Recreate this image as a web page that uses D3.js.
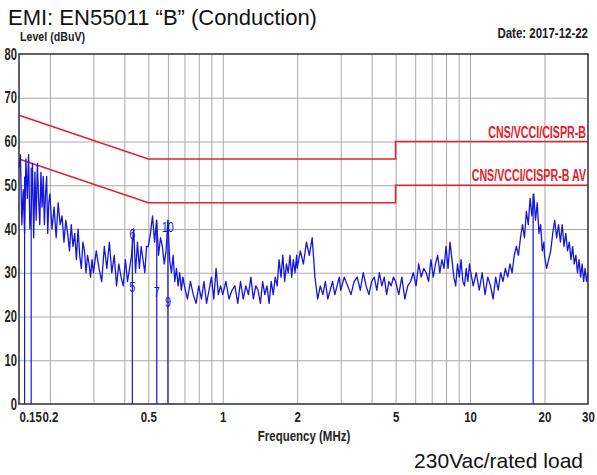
<!DOCTYPE html>
<meta charset="utf-8">
<style type="text/css">
body { margin: 0; background: #fff; }
svg text { font-family: 'Liberation Sans', Arial, sans-serif; font-weight: bold; fill: #222; }
.title, .note { font-weight: normal !important; fill: #111 !important; }
.grid line { stroke: #a8a8a8; stroke-width: 1; }
.grid path { display: none; }
.lim-label { fill: #e8202a !important; }
.mk-label { font-weight: normal !important; fill: #1515e0 !important; }
</style>
<body>
<script src="https://cdnjs.cloudflare.com/ajax/libs/d3/7.8.5/d3.min.js"></script>
<script>

// tick values
var xTicks = [0.15, 0.2, 0.5, 1, 2, 5, 10, 20, 30];
var xGrid = [0.2, 0.3, 0.4, 0.5, 0.6, 0.7, 0.8, 0.9, 1, 2, 3, 4, 5, 6, 7, 8, 9, 10, 20];
var yTicks = [0, 10, 20, 30, 40, 50, 60, 70, 80];

// limit lines (MHz, dBuV)
var limFreq = [0.15, 0.5, 5, 5, 30];
var qpLimit = [66, 56, 56, 60, 60];
var avLimit = [56, 46, 46, 50, 50];
var limNames = ["CNS/VCCI/CISPR-B", "CNS/VCCI/CISPR-B AV"];

// measured trace [MHz, dBuV]
var trace = [
  [0.150,54],[0.152,57],[0.154,41],[0.156,49],[0.158,39],[0.160,56],[0.162,47],[0.164,57],[0.166,40],[0.168,44],
  [0.170,55],[0.172,38],[0.174,53],[0.176,42],[0.178,55],[0.180,47],[0.182,41],[0.184,53],[0.186,45],[0.188,52],
  [0.190,41],[0.192,48],[0.194,52],[0.196,39],[0.198,46],
  [0.200,48],[0.204,40],[0.208,45],[0.212,38],[0.216,46],[0.220,41],[0.224,43],[0.228,37],[0.232,42],[0.236,39],
  [0.240,35],[0.244,41],[0.248,36],[0.252,39],[0.256,33],[0.260,40],[0.264,34],[0.268,31],[0.272,37],[0.276,35],
  [0.280,30],[0.284,34],[0.288,32],[0.292,29],[0.296,33],
  [0.300,30],[0.308,35],[0.316,31],[0.324,28],[0.332,36],[0.340,31],[0.348,37],[0.356,30],[0.364,34],[0.372,27],
  [0.380,32],[0.388,29],[0.396,27],[0.404,33],[0.412,28],[0.420,31],[0.428,34],[0.436,40],[0.444,30],[0.452,37],
  [0.460,31],[0.468,36],[0.476,33],[0.484,30],[0.492,36],
  [0.50,36],[0.51,39],[0.52,43],[0.53,37],[0.54,42],[0.55,34],[0.56,38],[0.57,36],[0.58,32],[0.59,35],
  [0.60,42],[0.61,33],[0.62,30],[0.63,34],[0.64,28],[0.65,31],[0.66,27],[0.67,30],[0.68,26],[0.69,29],
  [0.70,27],[0.72,24],[0.74,28],[0.76,25],[0.78,23],[0.80,27],[0.82,24],[0.84,28],[0.86,23],[0.88,26],
  [0.90,29],[0.92,24],[0.94,31],[0.96,25],[0.98,27],
  [1.00,25],[1.03,28],[1.06,24],[1.09,26],[1.12,27],[1.15,23],[1.18,28],[1.21,24],[1.24,27],[1.27,25],
  [1.30,29],[1.33,24],[1.36,27],[1.39,26],[1.42,23],[1.45,28],[1.48,25],[1.51,27],[1.54,23],[1.57,28],
  [1.60,25],[1.63,29],[1.66,27],[1.69,33],[1.72,29],[1.75,34],[1.78,28],[1.81,32],[1.84,30],[1.87,34],
  [1.90,29],[1.93,33],[1.96,30],[1.99,34],
  [2.00,31],[2.06,35],[2.12,32],[2.18,37],[2.24,34],[2.30,38],[2.36,29],[2.42,24],[2.48,27],[2.54,25],
  [2.60,28],[2.66,24],[2.72,26],[2.78,28],[2.84,25],[2.90,27],[2.96,29],
  [3.0,26],[3.1,29],[3.2,27],[3.3,25],[3.4,28],[3.5,29],[3.6,26],[3.7,30],[3.8,27],[3.9,25],
  [4.0,28],[4.1,29],[4.2,26],[4.3,30],[4.4,27],[4.5,29],[4.6,25],[4.7,28],[4.8,27],[4.9,29],
  [5.00,28],[5.15,25],[5.30,29],[5.45,24],[5.60,27],[5.75,28],[5.90,30],[6.05,27],[6.20,32],[6.35,29],
  [6.50,31],[6.65,30],[6.80,28],[6.95,33],[7.10,29],[7.25,32],[7.40,34],[7.55,30],[7.70,33],[7.85,31],
  [8.00,36],[8.15,31],[8.30,37],[8.45,33],[8.60,29],[8.75,27],[8.90,32],[9.05,29],[9.20,33],[9.35,28],
  [9.50,27],[9.65,31],[9.80,28],[9.95,32],
  [10.0,31],[10.3,27],[10.6,30],[10.9,26],[11.2,30],[11.5,25],[11.8,29],[12.1,27],[12.4,24],[12.7,29],
  [13.0,26],[13.3,30],[13.6,28],[13.9,31],[14.2,29],[14.5,32],[14.8,30],[15.1,34],[15.4,36],[15.7,34],
  [16.0,38],[16.3,41],[16.6,38],[16.9,44],[17.2,41],[17.5,47],[17.8,43],[18.1,48],[18.4,42],[18.7,46],
  [19.0,39],[19.3,41],[19.6,35],[19.9,37],
  [20.0,34],[20.4,31],[20.8,33],[21.2,35],[21.6,39],[22.0,42],[22.4,38],[22.8,41],[23.2,37],[23.6,41],
  [24.0,36],[24.4,39],[24.8,35],[25.2,37],[25.6,33],[26.0,36],[26.4,32],[26.8,34],[27.2,30],[27.6,33],
  [28.0,29],[28.4,32],[28.8,28],[29.2,31],[29.6,28],[30.0,30]
];

// marker lines and visible marker numbers
var markerFreq = [0.158, 0.168, 0.431, 0.541, 0.600, 18.0];
var markerLevel = [52, 54, 38, 42, 42, 48];
var labelText = ["5", "6", "7", "9", "10"];
var labelFreq = [0.431, 0.431, 0.541, 0.600, 0.600];
var labelLevel = [25.5, 37.8, 24.5, 22.2, 39.3];

var W = 597, H = 475;
var x = d3.scaleLog().domain([0.15, 30]).range([19, 588]);
var y = d3.scaleLinear().domain([0, 80]).range([404, 54]);

var svg = d3.select("body").append("svg")
  .attr("width", W)
  .attr("height", H);

// squeeze text horizontally (and stretch a bit vertically) for the narrow bold look
function narrow(sel, kx, ky) {
  sel.each(function() {
    var t = d3.select(this);
    var tx = +t.attr("x") || 0, ty = +t.attr("y") || 0;
    t.attr("x", 0).attr("y", 0)
      .attr("transform", "translate(" + tx + "," + ty + ") scale(" + (kx || 0.82) + "," + (ky || 1) + ")");
  });
}

//Grid
svg.append("g").attr("class", "grid")
  .attr("transform", "translate(0,404)")
  .call(d3.axisBottom(x).tickValues(xGrid).tickSize(-350).tickFormat(""));
svg.append("g").attr("class", "grid")
  .attr("transform", "translate(19,0)")
  .call(d3.axisLeft(y).tickValues(yTicks.slice(1, 8)).tickSize(-569).tickFormat(""));

//Limit lines
var lineGen = d3.line().x(function(d) { return x(d[0]); }).y(function(d) { return y(d[1]); });
[qpLimit, avLimit].forEach(function(lim) {
  svg.append("path")
    .datum(limFreq.map(function(f, i) { return [f, lim[i]]; }))
    .attr("d", lineGen)
    .attr("fill", "none")
    .attr("stroke", "#e8202a")
    .attr("stroke-width", 1.6);
});
svg.selectAll("text.lim-label")
  .data(limNames)
  .enter().append("text")
  .attr("class", "lim-label")
  .attr("x", 586)
  .attr("y", function(d, i) { return y(i == 0 ? qpLimit[4] : avLimit[4]) - 4; })
  .attr("text-anchor", "end")
  .style("font-size", "13px")
  .text(function(d) { return d; })
  .call(narrow, 0.82, 1.2);

//Markers
svg.selectAll("line.marker")
  .data(markerFreq)
  .enter().append("line")
  .attr("class", "marker")
  .attr("x1", function(d) { return x(d); })
  .attr("x2", function(d) { return x(d); })
  .attr("y1", y(0))
  .attr("y2", function(d, i) { return y(markerLevel[i]); })
  .attr("stroke", "#1515e0")
  .attr("stroke-width", 1.2);

//Trace
svg.append("path")
  .datum(trace)
  .attr("d", lineGen)
  .attr("fill", "none")
  .attr("stroke", "#1515e0")
  .attr("stroke-width", 1.3)
  .attr("stroke-linejoin", "round");

svg.selectAll("text.mk-label")
  .data(labelText)
  .enter().append("text")
  .attr("class", "mk-label")
  .attr("x", function(d, i) { return x(labelFreq[i]); })
  .attr("y", function(d, i) { return y(labelLevel[i]); })
  .attr("text-anchor", "middle")
  .style("font-size", "12px")
  .text(function(d) { return d; })
  .call(narrow, 0.9, 1.2);

//Frame
svg.append("rect")
  .attr("x", 19).attr("y", 54)
  .attr("width", 569).attr("height", 350)
  .attr("fill", "none")
  .attr("stroke", "#3a3a3a")
  .attr("stroke-width", 1.6);

//Axes labels
var xAxis = d3.axisBottom(x).tickValues(xTicks).tickSize(0).tickPadding(8)
  .tickFormat(function(d) { return String(d); });
var gx = svg.append("g").attr("transform", "translate(0,404)").call(xAxis);
gx.select(".domain").remove();
gx.selectAll("text").style("font-size", "14px").attr("fill", "#222")
  .attr("text-anchor", function(d) { return d == 0.15 ? "start" : "middle"; })
  .call(narrow);

var yAxis = d3.axisLeft(y).tickValues(yTicks).tickSize(0).tickPadding(2);
var gy = svg.append("g").attr("transform", "translate(19,0)").call(yAxis);
gy.select(".domain").remove();
gy.selectAll("text").style("font-size", "14px").attr("fill", "#222").call(narrow, 0.8, 1.15);

svg.append("text").attr("x", 20).attr("y", 41).style("font-size", "13px").text("Level (dBuV)").call(narrow);
svg.append("text").attr("x", 588).attr("y", 38).attr("text-anchor", "end").style("font-size", "14px")
  .text("Date: 2017-12-22").call(narrow);
svg.append("text").attr("x", 304).attr("y", 441).attr("text-anchor", "middle").style("font-size", "14px")
  .text("Frequency (MHz)").call(narrow);

svg.append("text").attr("class", "title").attr("x", 8).attr("y", 25).style("font-size", "22px")
  .text("EMI: EN55011 \u201cB\u201d (Conduction)");
svg.append("text").attr("class", "note").attr("x", 583).attr("y", 468).attr("text-anchor", "end").style("font-size", "21px")
  .text("230Vac/rated load");

</script>
</body>
